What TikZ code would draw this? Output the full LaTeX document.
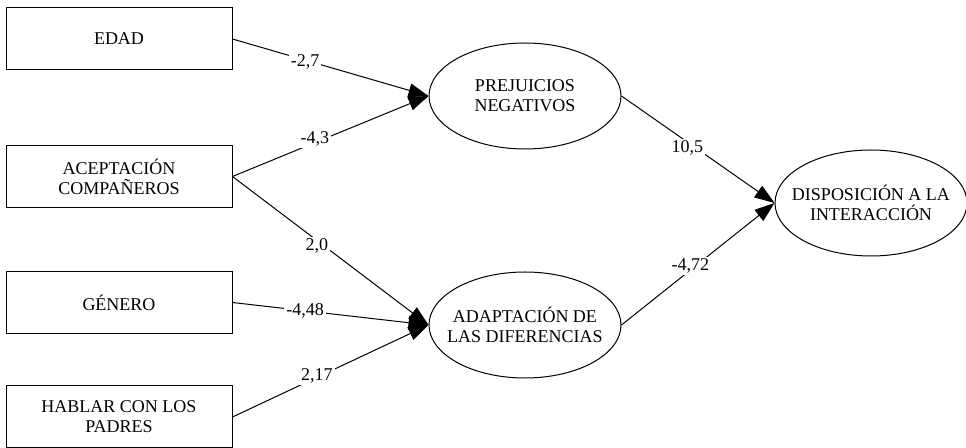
\documentclass[tikz,border=0pt]{standalone}
\usepackage{fontspec}
\setmainfont{Liberation Serif}
\usetikzlibrary{arrows.meta,shapes.geometric}
\tikzset{every path/.style={black,line width=0.5pt},
  obs/.style={draw,rectangle,minimum width=113pt,minimum height=31pt,inner sep=0pt,align=center,font=\fontsize{9}{10}\selectfont},
  lat/.style={draw,ellipse,minimum width=96pt,minimum height=53pt,inner xsep=-20pt,inner ysep=-8pt,align=center,font=\fontsize{9}{10}\selectfont},
  path/.style={-{Triangle[length=10pt,width=7pt]}},
  coef/.style={fill=white,inner sep=1pt,font=\fontsize{9}{10}\selectfont}}

\begin{document}
\begin{tikzpicture}[x=0.5pt,y=-0.5pt]
  \useasboundingbox (0,0) rectangle (966,448);
  \node[obs] (edad) at (119, 39.0) {EDAD};
  \node[obs] (acep) at (119,176.5) {ACEPTACIÓN\\COMPAÑEROS};
  \node[obs] (gen)  at (119,302.5) {GÉNERO};
  \node[obs] (hab)  at (119,417.0) {HABLAR CON LOS\\PADRES};
  \node[lat] (prej) at (525, 96) {PREJUICIOS\\NEGATIVOS};
  \node[lat] (adap) at (525,325) {ADAPTACIÓN DE\\LAS DIFERENCIAS};
  \node[lat] (disp) at (871,203) {DISPOSICIÓN A LA\\INTERACCIÓN};
  \draw[path] (edad.east) -- node[coef,pos=0.37,yshift=-1pt] {-2,7}  (prej.west);
  \draw[path] (acep.east) -- node[coef,pos=0.42,yshift=2pt]  {-4,3}  (prej.west);
  \draw[path] (acep.east) -- node[coef,pos=0.43,yshift=-3pt] {2,0}   (adap.west);
  \draw[path] (gen.east)  -- node[coef,pos=0.37] {-4,48} (adap.west);
  \draw[path] (hab.east)  -- node[coef,pos=0.43,yshift=1pt]  {2,17}  (adap.west);
  \draw[path] (prej.east) -- node[coef,pos=0.43,yshift=-3pt] {10,5}  (disp.west);
  \draw[path] (adap.east) -- node[coef,pos=0.45,yshift=2pt]  {-4,72} (disp.west);
\end{tikzpicture}
\end{document}
